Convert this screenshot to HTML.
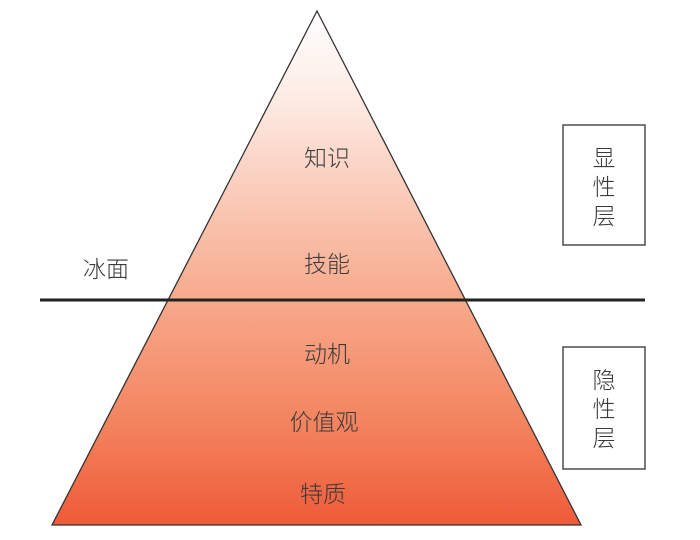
<!DOCTYPE html>
<html><head><meta charset="utf-8"><style>
body{margin:0;background:#fff;}
svg text{font-family:"Liberation Sans","Noto Sans CJK SC",sans-serif;font-size:23px;fill:#3a3a3a;font-weight:300;}
</style></head><body>
<svg width="700" height="535" viewBox="0 0 700 535" xmlns="http://www.w3.org/2000/svg">
<defs><linearGradient id="g" x1="0" y1="0" x2="0" y2="1">
<stop offset="0" stop-color="#ffffff"/>
<stop offset="0.15" stop-color="#fdeee8"/>
<stop offset="0.55" stop-color="#f7ab8e"/>
<stop offset="0.8" stop-color="#f3845f"/>
<stop offset="1" stop-color="#ef5a38"/>
</linearGradient></defs>
<polygon points="317,11 52,525 581,525" fill="url(#g)" stroke="#333" stroke-width="1.3"/>
<line x1="40" y1="300" x2="645" y2="300" stroke="#222" stroke-width="3"/>
<rect x="563" y="125" width="82" height="120" fill="#fff" stroke="#333" stroke-width="1.3"/>
<rect x="563" y="347" width="82" height="122" fill="#fff" stroke="#333" stroke-width="1.3"/>
<g text-anchor="middle">
<text x="327" y="166">知识</text>
<text x="327" y="272">技能</text>
<text x="106" y="277">冰面</text>
<text x="327" y="362">动机</text>
<text x="324" y="430">价值观</text>
<text x="323" y="502">特质</text>
<text x="604" y="166">显</text>
<text x="604" y="195">性</text>
<text x="604" y="224">层</text>
<text x="604" y="388">隐</text>
<text x="604" y="417">性</text>
<text x="604" y="446">层</text>
</g>
</svg>
</body></html>
